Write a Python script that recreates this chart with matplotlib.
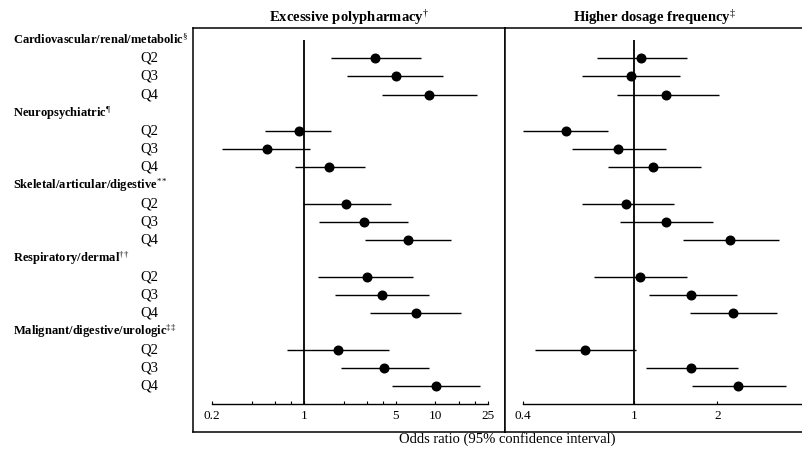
import numpy as np
import matplotlib
matplotlib.use("Agg")
import matplotlib.pyplot as plt
from matplotlib.ticker import NullLocator
from matplotlib.transforms import blended_transform_factory

plt.rcParams["font.family"] = ["Liberation Serif", "DejaVu Serif"]
plt.rcParams["mathtext.fontset"] = "custom"
plt.rcParams["mathtext.rm"] = "Liberation Serif"
plt.rcParams["mathtext.it"] = "Liberation Serif:italic"
plt.rcParams["mathtext.bf"] = "Liberation Serif:bold"

groups = ["Cardiovascular/renal/metabolic", "Neuropsychiatric", "Skeletal/articular/digestive",
          "Respiratory/dermal", "Malignant/digestive/urologic"]
group_marks = ["§", "¶", "**", "††", "‡‡"]
quartiles = ["Q2", "Q3", "Q4"]

# excessive polypharmacy: odds ratio, lower and upper 95% CI (Q2, Q3, Q4 per group)
or_poly = [3.5, 5.0, 8.9, 0.91, 0.52, 1.56, 2.1, 2.86, 6.2, 3.0, 3.95, 7.1, 1.81, 4.06, 10.1]
lo_poly = [1.6, 2.13, 3.9, 0.51, 0.24, 0.85, 0.99, 1.30, 2.93, 1.29, 1.71, 3.19, 0.75, 1.90, 4.69]
hi_poly = [7.8, 11.4, 20.8, 1.62, 1.11, 2.89, 4.56, 6.2, 13.1, 6.8, 9.0, 15.6, 4.43, 8.9, 21.7]

# higher dosage frequency
or_dose = [1.06, 0.975, 1.31, 0.57, 0.88, 1.17, 0.94, 1.31, 2.22, 1.05, 1.61, 2.27, 0.67, 1.61, 2.37]
lo_dose = [0.74, 0.65, 0.87, 0.40, 0.60, 0.81, 0.65, 0.89, 1.51, 0.72, 1.13, 1.59, 0.44, 1.11, 1.62]
hi_dose = [1.56, 1.47, 2.03, 0.81, 1.31, 1.74, 1.40, 1.93, 3.32, 1.55, 2.36, 3.29, 1.02, 2.37, 3.53]

ticks_poly = [0.2, 0.4, 0.6, 0.8, 1, 2, 3, 4, 5, 10, 15, 20, 25]
labels_poly = {0.2: "0.2", 1: "1", 5: "5", 10: "10", 25: "25"}
ticks_dose = [0.4, 1, 2]
labels_dose = ["0.4", "1", "2"]

W, H = 803, 450
fig = plt.figure(figsize=(W / 100, H / 100), dpi=100)


def box(l, r, t, b):
    return [l / W, 1 - b / H, (r - l) / W, (b - t) / H]


rows = []
for g in range(len(groups)):
    rows += [4 * g + 1, 4 * g + 2, 4 * g + 3]
rows = np.array(rows)
ylim = (21.5, -0.66)

axL = fig.add_axes(box(193, 505, 28, 431.5))
axR = fig.add_axes(box(505, 815, 28, 431.5))

panels = [
    (axL, or_poly, lo_poly, hi_poly, (0.1434, 33.8), (0.2, 25), "Excessive polypharmacy$^{\u2020}$", 349),
    (axR, or_dose, lo_dose, hi_dose, (0.344, 4.49), (0.4, 4), "Higher dosage frequency$^{\u2021}$", 654),
]

for ax, est, lo, hi, xlim, bounds, title, tx in panels:
    ax.set_xscale("log")
    ax.set_xlim(*xlim)
    ax.set_ylim(*ylim)
    ax.hlines(rows, lo, hi, color="black", lw=1.0)
    ax.plot(est, rows, "o", color="black", ms=6.2)
    ax.vlines(1, 0, 20, color="black", lw=1.3)
    ax.set_yticks([])
    for s in ["left", "top", "right"]:
        ax.spines[s].set_linewidth(1.1)
    ax.spines["bottom"].set_position(("data", 20))
    ax.spines["bottom"].set_bounds(*bounds)
    ax.spines["bottom"].set_linewidth(1.0)
    ax.axhline(ylim[0], color="black", lw=1.1, clip_on=False)
    ax.xaxis.set_minor_locator(NullLocator())
    ax.tick_params(axis="x", direction="in", length=2.5, width=0.8, pad=4, labelsize=9.5)
    fig.text(tx / W, 1 - 22 / H, title, ha="center", va="baseline", fontsize=10.5, fontweight="bold")

axR.spines["right"].set_visible(False)

axL.set_xticks(ticks_poly)
axL.set_xticklabels([labels_poly.get(t, "") for t in ticks_poly])
axR.set_xticks(ticks_dose)
axR.set_xticklabels(labels_dose)

trans = blended_transform_factory(fig.transFigure, axL.transData)
for g, name in enumerate(groups):
    axL.text(13 / W, 4 * g, name + "$^{" + group_marks[g] + "}$", transform=trans,
             ha="left", va="center", fontsize=9, fontweight="bold", clip_on=False)
    for k, q in enumerate(quartiles):
        axL.text(140 / W, 4 * g + k + 1, q, transform=trans, ha="left", va="center",
                 fontsize=10.5, clip_on=False)

fig.text(507 / W, 1 - 443 / H, "Odds ratio (95% confidence interval)", ha="center", va="baseline", fontsize=10.5)

fig.savefig("out.png", dpi=100)
